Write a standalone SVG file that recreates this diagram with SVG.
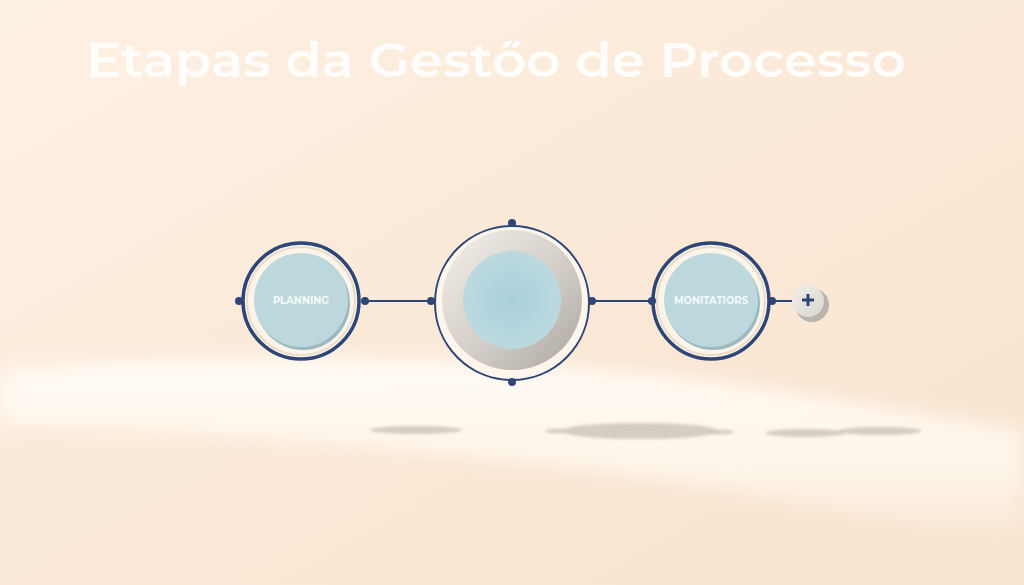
<svg xmlns="http://www.w3.org/2000/svg" width="1024" height="585" viewBox="0 0 1024 585">
<defs>
<linearGradient id="bg" x1="0" y1="0" x2="1" y2="1">
<stop offset="0" stop-color="#fdf1e4"/>
<stop offset="0.5" stop-color="#fbe9d7"/>
<stop offset="1" stop-color="#f8e4cf"/>
</linearGradient>
<linearGradient id="band" x1="0" y1="0" x2="0" y2="1">
<stop offset="0" stop-color="#fffbf4" stop-opacity="1"/>
<stop offset="0.6" stop-color="#fef8ef" stop-opacity="0.8"/>
<stop offset="1" stop-color="#fdf3e6" stop-opacity="0"/>
</linearGradient>
<radialGradient id="blue" cx="0.5" cy="0.5" r="0.5">
<stop offset="0" stop-color="#a9d0dc"/>
<stop offset="1" stop-color="#bcd9df"/>
</radialGradient>
<linearGradient id="grey" x1="0" y1="0" x2="1" y2="1">
<stop offset="0" stop-color="#f4f0ea"/>
<stop offset="0.6" stop-color="#cfcac3"/>
<stop offset="1" stop-color="#a9a49e"/>
</linearGradient>
<linearGradient id="plus" x1="0" y1="0" x2="1" y2="1">
<stop offset="0" stop-color="#f2efea"/>
<stop offset="1" stop-color="#d9d5cf"/>
</linearGradient>
<filter id="blur8" x="-20%" y="-50%" width="140%" height="200%"><feGaussianBlur stdDeviation="9"/></filter>
<filter id="blur2" x="-20%" y="-100%" width="140%" height="300%"><feGaussianBlur stdDeviation="1.5"/></filter>
<style>
.ring{fill:#fcf4e8;stroke:#2d4677;stroke-width:3.5}
.inner{fill:#bcd8dd}
.dot{fill:#2d4677}
.conn{stroke:#2d4677;stroke-width:2;fill:none}
.lbl{font-family:Montserrat,"Open Sans","Liberation Sans",sans-serif;font-weight:700;font-size:10px;fill:#f4f8f8;text-anchor:middle}
.shadow{fill:#cdc6bc;opacity:0.85}
</style>
</defs>
<rect width="1024" height="585" fill="url(#bg)"/>
<path d="M0 370 C200 350 500 355 700 380 C850 400 950 420 1024 430 L1024 550 C900 520 700 480 500 460 C300 440 100 425 0 425 Z" fill="url(#band)" filter="url(#blur8)"/>
<text x="496" y="77" font-family="Montserrat,'Open Sans','Liberation Sans',sans-serif" font-size="48" font-weight="600" fill="#ffffff" fill-opacity="0.88" text-anchor="middle" textLength="820" lengthAdjust="spacingAndGlyphs">Etapas da Gestőo de Processo</text>
<g id="shadows" filter="url(#blur2)">
<ellipse class="shadow" cx="416" cy="430" rx="46" ry="4"/>
<ellipse class="shadow" cx="640" cy="431" rx="78" ry="8"/>
<ellipse class="shadow" cx="557" cy="431" rx="12" ry="2.5"/>
<ellipse class="shadow" cx="720" cy="432" rx="14" ry="2.5"/>
<ellipse class="shadow" cx="805" cy="433" rx="40" ry="4"/>
<ellipse class="shadow" cx="880" cy="431" rx="42" ry="4"/>
</g>
<g id="connectors">
<line class="conn" x1="365" y1="301" x2="431" y2="301"/>
<line class="conn" x1="592" y1="301" x2="652" y2="301"/>
<line class="conn" x1="772" y1="301" x2="792" y2="301"/>
</g>
<g id="planning">
<circle class="ring" cx="301" cy="301" r="58"/>
<circle cx="301" cy="301" r="54" fill="none" stroke="#e8dccb" stroke-width="2"/>
<circle cx="303" cy="303" r="47" fill="#9cb8c0"/>
<circle class="inner" cx="301" cy="300" r="47"/>
<text class="lbl" x="301" y="304">PLANNING</text>
<circle class="dot" cx="239" cy="301" r="4"/>
<circle class="dot" cx="365" cy="301" r="4"/>
</g>
<g id="center">
<circle cx="512" cy="303" r="77" fill="#fdf6ec" stroke="#2d4677" stroke-width="2"/>
<circle cx="512" cy="300" r="70" fill="url(#grey)"/>
<circle cx="512" cy="300" r="49" fill="url(#blue)"/>
<circle class="dot" cx="512" cy="223" r="4"/>
<circle class="dot" cx="431" cy="301" r="4"/>
<circle class="dot" cx="592" cy="301" r="4"/>
<circle class="dot" cx="512" cy="382" r="4"/>
</g>
<g id="monitoring">
<circle class="ring" cx="711" cy="301" r="58"/>
<circle cx="711" cy="301" r="54" fill="none" stroke="#e8dccb" stroke-width="2"/>
<circle cx="713" cy="303" r="47" fill="#9cb8c0"/>
<circle class="inner" cx="711" cy="300" r="47"/>
<text class="lbl" x="711" y="304">MONITATIORS</text>
<circle class="dot" cx="652" cy="301" r="4"/>
<circle class="dot" cx="772" cy="301" r="4"/>
</g>
<g id="plus-button">
<circle cx="812" cy="305" r="17" fill="#b9b4ad"/>
<circle cx="808" cy="301" r="16" fill="url(#plus)"/>
<path d="M802 300 H814 M808 294 V306" stroke="#2d4677" stroke-width="3"/>
</g>
</svg>
